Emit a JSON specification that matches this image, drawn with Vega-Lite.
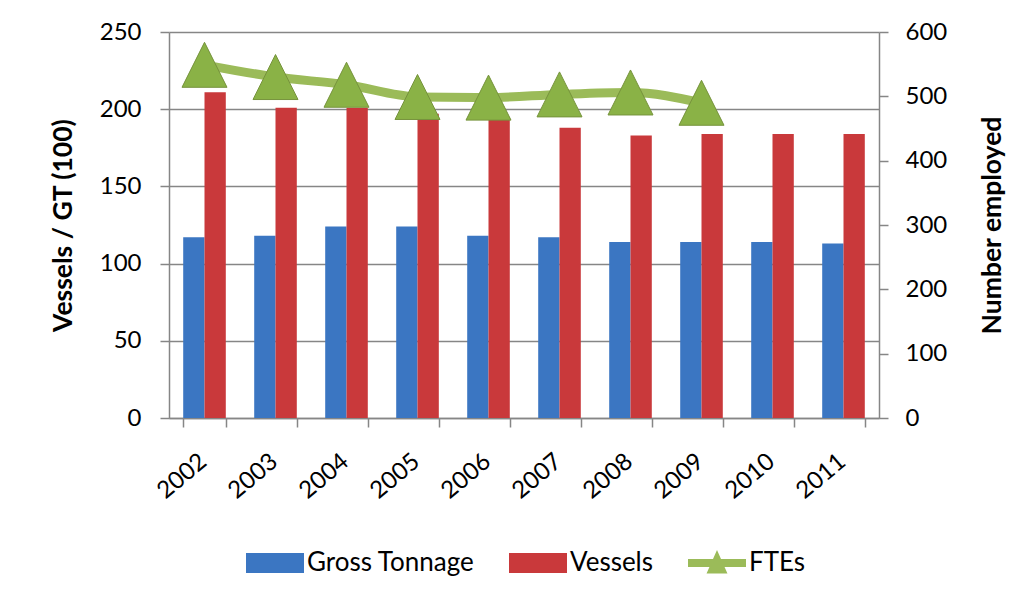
{
  "$schema": "https://vega.github.io/schema/vega-lite/v6.json",
  "width": 710,
  "height": 386,
  "autosize": "none",
  "padding": {"left": 169, "top": 32, "right": 154, "bottom": 186},
  "background": "white",
  "config": {
    "font": "Lato",
    "view": {"stroke": null},
    "axis": {
      "domainColor": "#868686",
      "domainWidth": 1.5,
      "tickColor": "#868686",
      "tickWidth": 1.5,
      "tickSize": 9,
      "gridColor": "#868686",
      "gridWidth": 1.5,
      "labelColor": "black",
      "labelFont": "Lato",
      "labelFontSize": 24,
      "titleColor": "black",
      "titleFont": "Lato",
      "titleFontSize": 26.5,
      "titleFontWeight": "bold"
    }
  },
  "datasets": {
    "bars": [
      {"year": "2002", "series": "Gross Tonnage", "value": 117},
      {"year": "2002", "series": "Vessels", "value": 211},
      {"year": "2003", "series": "Gross Tonnage", "value": 118},
      {"year": "2003", "series": "Vessels", "value": 201},
      {"year": "2004", "series": "Gross Tonnage", "value": 124},
      {"year": "2004", "series": "Vessels", "value": 201},
      {"year": "2005", "series": "Gross Tonnage", "value": 124},
      {"year": "2005", "series": "Vessels", "value": 197},
      {"year": "2006", "series": "Gross Tonnage", "value": 118},
      {"year": "2006", "series": "Vessels", "value": 195},
      {"year": "2007", "series": "Gross Tonnage", "value": 117},
      {"year": "2007", "series": "Vessels", "value": 188},
      {"year": "2008", "series": "Gross Tonnage", "value": 114},
      {"year": "2008", "series": "Vessels", "value": 183},
      {"year": "2009", "series": "Gross Tonnage", "value": 114},
      {"year": "2009", "series": "Vessels", "value": 184},
      {"year": "2010", "series": "Gross Tonnage", "value": 114},
      {"year": "2010", "series": "Vessels", "value": 184},
      {"year": "2011", "series": "Gross Tonnage", "value": 113},
      {"year": "2011", "series": "Vessels", "value": 184}
    ],
    "ftes": [
      {"year": "2002", "ftes": 549},
      {"year": "2003", "ftes": 530},
      {"year": "2004", "ftes": 518},
      {"year": "2005", "ftes": 499},
      {"year": "2006", "ftes": 498},
      {"year": "2007", "ftes": 503},
      {"year": "2008", "ftes": 506},
      {"year": "2009", "ftes": 490}
    ]
  },
  "encoding": {
    "x": {
      "field": "year",
      "type": "nominal",
      "scale": {
        "domain": ["2002","2003","2004","2005","2006","2007","2008","2009","2010","2011"],
        "paddingInner": 0.4,
        "paddingOuter": 0.2
      },
      "axis": {
        "title": null,
        "labelAngle": -40,
        "labelPadding": 22,
        "labelOffset": -9,
        "tickBand": "extent",
        "grid": false
      }
    }
  },
  "layer": [
    {
      "data": {"name": "bars"},
      "mark": {"type": "bar"},
      "encoding": {
        "xOffset": {
          "field": "series",
          "type": "nominal",
          "scale": {"domain": ["Gross Tonnage", "Vessels"], "paddingInner": 0, "paddingOuter": 0}
        },
        "y": {
          "field": "value",
          "type": "quantitative",
          "scale": {"domain": [0, 250]},
          "axis": {
            "title": "Vessels / GT (100)",
            "values": [0, 50, 100, 150, 200, 250],
            "labelPadding": 19,
            "titlePadding": 22,
            "grid": true
          }
        },
        "color": {
          "field": "series",
          "type": "nominal",
          "scale": {
            "domain": ["Gross Tonnage", "Vessels", "FTEs"],
            "range": ["#3B76C2", "#C9393B", "#9BBB59"]
          },
          "legend": {
            "title": null,
            "orient": "none",
            "direction": "horizontal",
            "legendX": 77,
            "legendY": 502,
            "symbolSize": 3364,
            "symbolStrokeWidth": 0,
            "labelFontSize": 26,
            "labelFont": "Lato",
            "labelColor": "black",
            "labelLimit": 0,
            "labelOffset": 3,
            "columnPadding": 34,
            "encode": {
              "symbols": {
                "update": {
                  "shape": {"signal": "datum.value === 'FTEs' ? 'M-1,-0.14L1,-0.14L1,0.14L-1,0.14Z M0,-0.45L0.36,0.36L-0.36,0.36Z' : 'M-1,-0.345L1,-0.345L1,0.345L-1,0.345Z'"}
                }
              }
            }
          }
        }
      }
    },
    {
      "data": {"name": "ftes"},
      "layer": [
        {
          "mark": {"type": "line", "color": "#9BBB59", "strokeWidth": 9, "interpolate": "monotone"},
          "encoding": {
            "y": {
              "field": "ftes",
              "type": "quantitative",
              "scale": {"domain": [0, 600]},
              "axis": {
                "orient": "right",
                "title": "Number employed",
                "titleAngle": 270,
                "values": [0, 100, 200, 300, 400, 500, 600],
                "labelPadding": 17,
                "titlePadding": 60,
                "grid": false
              }
            }
          }
        },
        {
          "mark": {
            "type": "point",
            "filled": true,
            "opacity": 1,
            "shape": "M0,-1L1,1L-1,1Z",
            "size": 2025,
            "color": "#8AB246",
            "stroke": "#76933C",
            "strokeWidth": 1
          },
          "encoding": {
            "y": {"field": "ftes", "type": "quantitative"}
          }
        }
      ]
    }
  ],
  "resolve": {"scale": {"y": "independent"}}
}
